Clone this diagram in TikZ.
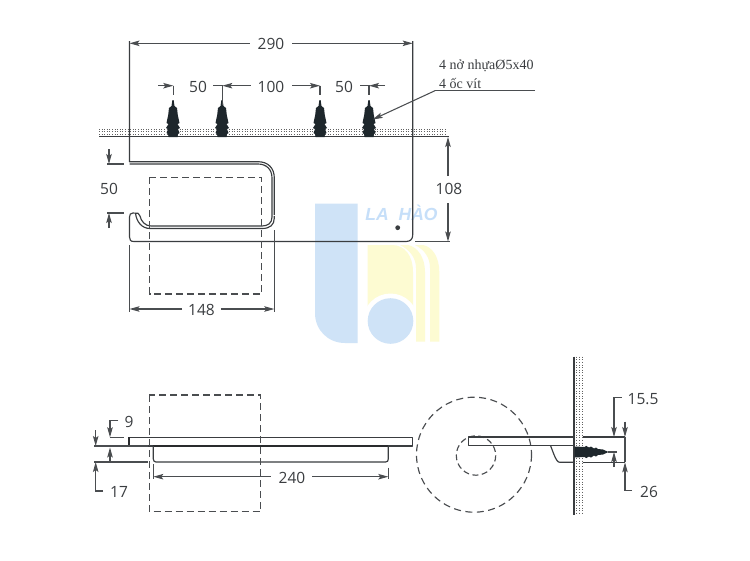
\documentclass[tikz,border=0pt]{standalone}
\usepackage{fontspec}
\setmainfont{Open Sans}
\newfontfamily\serifnote{Liberation Serif}
\newfontfamily\markfont{Liberation Sans}
\usetikzlibrary{arrows.meta}
\definecolor{ink}{HTML}{3A3D40}
\definecolor{dimc}{HTML}{4A4D50}
\definecolor{markblue}{HTML}{CFE3F7}
\definecolor{markyellow}{HTML}{FDFBD2}
\definecolor{brandblue}{HTML}{C6DFF9}
\definecolor{plugc}{HTML}{1E272C}
\tikzset{
  x=1pt,y=-1pt,
  part/.style={draw=ink,line width=1.15pt,line join=round},
  thick part/.style={draw=ink!70!black,line width=1.7pt},
  dim/.style={draw=dimc,line width=1.05pt},
  tip/.style={-{Stealth[length=10pt,width=5.5pt,inset=2pt]}},
  dimtext/.style={font=\fontsize{15.5}{15.5}\selectfont,text=ink,inner sep=0pt,outer sep=0pt},
  note/.style={font=\serifnote\fontsize{14}{14}\selectfont,text=ink,inner sep=0pt,anchor=base west},
  hidden/.style={draw=dimc,line width=1.15pt,dash pattern=on 7pt off 4pt},
  speckle/.style={draw=black!62,line width=1pt,dash pattern=on 1pt off 1.6pt},
  wallplug/.pic={
    \fill[plugc] (-.6,-37)--(.6,-37)--(1.5,-31)--(4,-29)--(4.8,-22)--(6.5,-14)--(4.5,-13)--(7,-9)--(5,-8)--(6.5,-4)--(5,-3)--(4.5,0)
      --(-4.5,0)--(-5,-3)--(-6.5,-4)--(-5,-8)--(-7,-9)--(-4.5,-13)--(-6.5,-14)--(-4.8,-22)--(-4,-29)--(-1.5,-31)--cycle;
  }
}
\begin{document}
\begin{tikzpicture}
\useasboundingbox (0,0) rectangle (750,560);
\fill[white] (0,0) rectangle (750,560);

% watermark
\fill[markblue] (315,203.5) -- (357.7,203.5) -- (357.7,343) -- (345,343) .. controls (328,343) and (315,330) .. (315,313) -- cycle;
\fill[markyellow] (367.5,245) -- (392,245) .. controls (405,245) and (413,256) .. (413,272) -- (413,330) -- (367.5,330) -- cycle;
\fill[white] (390.5,321) circle[radius=27.5];
\fill[white] (363,330) rectangle (417,346);
\fill[markyellow] (400,245) -- (408,245) .. controls (418,247) and (425,258) .. (425,272) -- (425,341.7) -- (416,341.7) -- (416,268) .. controls (416,258) and (410,250) .. (400,245) -- cycle;
\fill[markyellow] (415,245) -- (423,245) .. controls (433,247) and (439.3,258) .. (439.3,272) -- (439.3,341.7) -- (430,341.7) -- (430,268) .. controls (430,258) and (425,250) .. (415,245) -- cycle;
\fill[markblue] (390.5,321) circle[radius=22.8];
\node[inner sep=0pt,text=brandblue,font=\markfont\bfseries\itshape\fontsize{17.5}{17.5}\selectfont] (brand) at (401.5,213) {LA\hspace{10pt}HÀO};

% wall, front view
\foreach \r in {129,131.6,134}
  \draw[speckle] (99,\r) -- (447,\r);
\draw[part,line width=1.2pt] (99,136.5) -- (449,136.5);
\foreach \p in {173,222,320,369}
  \pic at (\p,137) {wallplug};

% body, front view
\draw[part] (129.5,41) -- (129.5,161.7) -- (258,161.7) .. controls (268,161.7) and (274.3,168) .. (274.3,178) -- (274.3,215);
\draw[part] (129.5,164) -- (258,164) .. controls (266.5,164) and (272,169.5) .. (272,178) -- (272,217);
\draw[part] (274.3,216) -- (274.3,218) .. controls (274.3,225) and (270,228.5) .. (262,228.5) -- (150,228.5)
   .. controls (142,228.5) and (136.5,222) .. (135.5,213.2) -- (133,213) .. controls (130.5,213) and (129.5,214.5) .. (129.5,217)
   -- (129.5,237) .. controls (129.5,240) and (130.5,241.5) .. (134,241.5) -- (406,241.5)
   .. controls (410.5,241.5) and (412.7,239) .. (412.7,235) -- (412.7,41);
\draw[part] (272,217) .. controls (272,223) and (268,226) .. (262,226) -- (151,226) .. controls (145,226) and (141,221) .. (140,216);
\draw[part] (135.5,213.2) -- (138,213.2) -- (140,216);
\fill[ink] (397.7,227.7) circle[radius=2.4];
\draw[hidden] (149.5,177.3) rectangle (261.3,294);

% top dimensions
\node[dimtext] (t290) at (271,44) {290};
\draw[dim,tip] (t290.west) ++(-8,-.7) -- (129.5,43.3);
\draw[dim,tip] (t290.east) ++(8,-.7) -- (412.7,43.3);

\node[dimtext] (t50a) at (198,86.5) {50};
\node[dimtext] (t100) at (271,86.5) {100};
\node[dimtext] (t50b) at (344,86.5) {50};
\draw[dim,tip] (158,85.7) -- (173.3,85.7);
\draw[dim] (173.3,85.7) -- (173.3,95);
\draw[dim,tip] (t100.west) ++(-7,-.8) -- (222.3,85.7);
\draw[dim] (213,85.7) -- (222.3,85.7) -- (222.3,105);
\draw[dim,tip] (t100.east) ++(8,-.8) -- (320,85.7);
\draw[dim] (320,85.7) -- (320,95);
\draw[dim,tip] (385,85.7) -- (369,85.7);
\draw[dim] (360,85.7) -- (369,85.7) -- (369,95);

% note and leader
\node[note] (n1) at (439,69) {4 nở nhựaØ5x40};
\node[note] (n2) at (439,88.5) {4 ốc vít};
\coordinate (lead end) at (535,90.7);
\coordinate (lead knee) at (435,90.7);
\coordinate (lead tip) at (372.7,119.5);
\draw[dim] (lead end) -- (lead knee);
\draw[dim,tip] (lead knee) -- (lead tip);

% 108
\node[dimtext] (t108) at (449,189) {108};
\draw[dim,tip] (448,176) -- (448,137);
\draw[dim,tip] (448,203) -- (448,241.5);
\draw[dim] (415,241.7) -- (450,241.7);

% 50 left
\node[dimtext] (t50c) at (109,189) {50};
\draw[dim,tip] (109,149) -- (109,164);
\draw[dim,tip] (109,228) -- (109,213);
\draw[dim] (107,164) -- (124,164);
\draw[dim] (107,213) -- (124,213);

% 148
\node[dimtext] (t148) at (201.5,310) {148};
\draw[dim,tip] (t148.west) ++(-6,-1) -- (129.5,309);
\draw[dim,tip] (t148.east) ++(6,-1) -- (274.3,309);
\draw[dim] (129.5,245) -- (129.5,312);
\draw[dim] (274.3,230) -- (274.3,312);

% side view 1
\draw[part] (128.3,437.3) rectangle (412.7,446);
\draw[thick part] (128.8,437.3) -- (128.8,446) -- (132,446);
\draw[thick part] (153.3,446) -- (388.3,446);
\draw[part] (153.3,446) -- (153.3,459) .. controls (153.3,461) and (154.5,462) .. (156,462) -- (385.5,462) .. controls (387.3,462) and (388.3,461) .. (388.3,459) -- (388.3,446);
\draw[hidden] (149.3,395) rectangle (260.7,511.7);
\node[dimtext] (t240) at (292,477.5) {240};
\draw[dim,tip] (t240.west) ++(-8,-.8) -- (153.3,476.7);
\draw[dim,tip] (t240.east) ++(7,-.8) -- (388.3,476.7);
\draw[dim] (153.3,464) -- (153.3,479);
\draw[dim] (388.3,467.7) -- (388.3,479);

\node[dimtext] (t9) at (129,421.7) {9};
\node[dimtext] (t17) at (119,492) {17};
\draw[dim,tip] (118.3,420.7) -- (110,420.7) -- (110,437.3);
\draw[dim,tip] (110,462) -- (110,447.5);
\draw[dim] (110,437.3) -- (124,437.3);
\draw[dim] (94,446) -- (148,446);
\draw[dim] (94,462) -- (148,462);
\draw[dim,tip] (95.7,430) -- (95.7,446);
\draw[dim,tip] (103,491) -- (95.7,491) -- (95.7,462);

% side view 2
\draw[hidden,dash pattern=on 7pt off 4.5pt] (474,454.7) circle[radius=57.5];
\draw[hidden,dash pattern=on 6pt off 3.5pt] (476,455.5) circle[radius=19.7];
\draw[part] (574,437) -- (468.3,437) -- (468.3,445.7) -- (574,445.7);
\draw[part] (582.7,437) -- (625,437);
\draw[part] (550.7,446) .. controls (553,452) and (555,458) .. (557,460.5) .. controls (558,462) and (559,462.3) .. (560,462.3) -- (574,462.3);
\draw[part] (582.7,462.3) -- (625,462.3);
\draw[part,line width=1.2pt] (574,356.7) -- (574,515);
\foreach \c in {576.5,579.3,582}
  \draw[speckle] (\c,356.7) -- (\c,515);
\fill[plugc] (574.5,446.5) -- (585,447) -- (586,445.8) -- (589,447.5) -- (591,446.5) -- (594,448.5) -- (596,447.5) -- (598,449) -- (603,449.5) -- (608.5,452) -- (603,454.5) -- (598,455) -- (596,456.5) -- (594,455.5) -- (591,457.5) -- (589,456.5) -- (586,458.2) -- (585,457) -- (574.5,457.5) -- cycle;
\draw[dim] (608,452) -- (617,452);

\node[dimtext] (t155) at (643,399) {15.5};
\node[dimtext] (t26) at (649,492) {26};
\draw[dim,tip] (621.7,397.3) -- (614,397.3) -- (614,437);
\draw[dim,tip] (614,467) -- (614,452);
\draw[dim,tip] (625,421.7) -- (625,437);
\draw[dim] (625,437) -- (625,462);
\draw[dim,tip] (632,490.7) -- (625,490.7) -- (625,462.3);
\end{tikzpicture}
\end{document}
